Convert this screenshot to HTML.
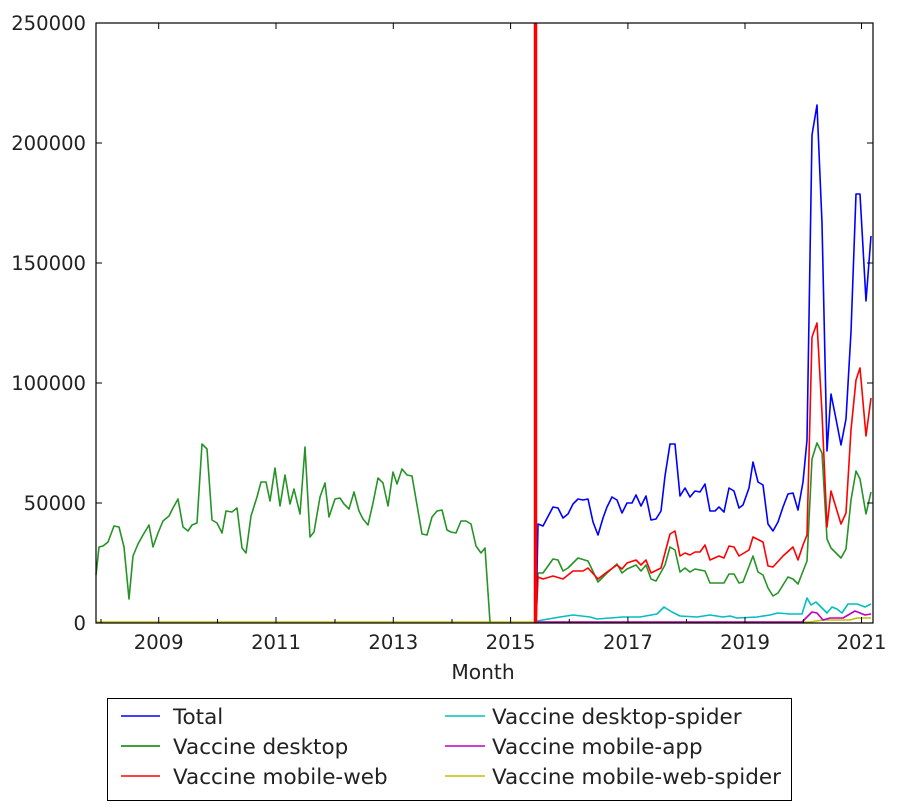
<!DOCTYPE html><html><head><style>body{margin:0;background:#fff}svg text{font-family:"DejaVu Sans","Liberation Sans",sans-serif;font-size:19.6px;fill:#222}svg text.lg{font-size:21.5px}svg text.mo{font-size:20.2px}</style></head><body>
<svg width="902" height="806" xmlns="http://www.w3.org/2000/svg">
<g fill="none" stroke-width="1.6" stroke-linejoin="round">
<polyline stroke="#bfbf00" points="96,622 490,622 536,622 805,622 810,622 823,620 850,620 857,618 871,618"/>
<polyline stroke="#008000" stroke-opacity="0.85" points="96,575 99,547 103,546 108,542 114,526 119,527 124,547 129,599 133,556 138,544 143,535 149,525 153,547 158,533 163,521 169,516 173,508 178,499 183,527 188,531 192,525 197,523 202,444 207,449 212,520 217,523 222,533 226,511 232,512 237,508 242,548 246,553 251,516 257,497 261,482 266,482 270,501 275,468 280,506 285,475 290,504 294,489 300,514 305,447 310,537 314,532 320,497 325,483 329,517 335,499 340,498 344,504 349,509 354,492 359,511 363,519 368,525 373,503 378,478 383,483 388,506 393,472 397,484 402,469 407,475 412,476 417,505 422,534 427,535 432,517 437,511 442,510 447,530 451,532 456,533 461,521 466,521 471,524 476,546 481,553 485,548 490,622"/>
<polyline stroke="#00bfbf" points="536,622 537,621 560,617 573,615 590,617 597,619 623,617 640,617 657,614 664,607 672,612 680,616 697,617 710,615 723,617 730,616 737,618 757,617 770,615 778,613 790,614 802,614 807,598 811,605 816,602 827,613 832,607 837,609 842,613 848,604 857,604 865,607 871,604"/>
<polyline stroke="#bf00bf" points="536,622 802,622 805,619 812,612 817,613 823,620 830,618 843,618 855,611 860,613 865,615 871,614"/>
<polyline stroke="#008000" stroke-opacity="0.85" points="536,622 538,573 543,573 553,559 558,560 563,571 568,568 578,558 588,561 598,582 607,573 617,564 622,573 627,569 636,565 641,571 646,565 651,579 656,581 665,565 670,547 675,550 680,572 685,568 690,572 695,569 705,571 710,583 719,583 724,583 729,574 734,574 739,583 743,582 753,556 758,572 763,575 768,588 773,596 778,593 788,577 793,579 798,584 807,561 812,459 817,443 822,453 827,539 831,548 841,558 846,549 851,500 856,471 860,479 866,514 871,492"/>
<polyline stroke="#ff0000" points="536,622 538,577 543,579 553,576 563,579 573,571 583,571 588,568 598,579 607,572 617,565 622,569 627,563 636,560 641,565 646,560 651,573 661,568 670,534 675,531 680,556 685,553 690,555 695,552 700,552 705,545 710,560 719,556 724,558 729,546 734,547 739,556 749,550 753,537 763,542 768,566 773,567 783,556 793,547 798,560 803,545 807,535 812,337 817,323 822,413 827,527 831,491 841,524 846,513 851,430 856,380 860,368 866,436 871,398"/>
<polyline stroke="#0000ff" points="536,622 538,524 543,526 553,507 558,508 563,518 568,514 573,504 578,499 583,500 588,499 593,522 598,535 603,518 607,507 612,497 617,500 622,513 627,503 632,503 636,495 641,506 646,496 651,520 656,519 661,511 665,476 670,444 675,444 680,496 685,488 690,497 695,491 700,492 705,484 710,511 715,511 719,507 724,512 729,488 734,491 739,508 743,505 749,488 753,462 758,482 763,485 768,524 773,531 778,522 783,507 788,494 793,493 798,510 803,482 807,440 812,135 817,105 822,223 827,451 831,394 836,419 841,445 846,419 851,332 856,194 860,194 866,301 871,236"/>
</g>
<line x1="535.5" y1="23" x2="535.5" y2="623" stroke="#ff0000" stroke-width="3.5"/>
<rect x="96" y="23" width="777" height="600" fill="none" stroke="#000" stroke-width="1.2"/>
<g stroke="#000" stroke-width="1">
<line x1="96" y1="143" x2="102" y2="143"/><line x1="96" y1="263" x2="102" y2="263"/><line x1="96" y1="383" x2="102" y2="383"/><line x1="96" y1="503" x2="102" y2="503"/>
<line x1="873" y1="143" x2="867" y2="143"/><line x1="873" y1="263" x2="867" y2="263"/><line x1="873" y1="383" x2="867" y2="383"/><line x1="873" y1="503" x2="867" y2="503"/>
<line x1="158.7" y1="623" x2="158.7" y2="617"/><line x1="276" y1="623" x2="276" y2="617"/><line x1="393.3" y1="623" x2="393.3" y2="617"/><line x1="510.6" y1="623" x2="510.6" y2="617"/><line x1="627.9" y1="623" x2="627.9" y2="617"/><line x1="745" y1="623" x2="745" y2="617"/><line x1="861.5" y1="623" x2="861.5" y2="617"/>
<line x1="101" y1="623" x2="101" y2="619"/><line x1="217.5" y1="623" x2="217.5" y2="619"/><line x1="335" y1="623" x2="335" y2="619"/><line x1="452" y1="623" x2="452" y2="619"/><line x1="569.3" y1="623" x2="569.3" y2="619"/><line x1="686.5" y1="623" x2="686.5" y2="619"/><line x1="803.5" y1="623" x2="803.5" y2="619"/>
<line x1="158.7" y1="23" x2="158.7" y2="29"/><line x1="276" y1="23" x2="276" y2="29"/><line x1="393.3" y1="23" x2="393.3" y2="29"/><line x1="510.6" y1="23" x2="510.6" y2="29"/><line x1="627.9" y1="23" x2="627.9" y2="29"/><line x1="745" y1="23" x2="745" y2="29"/><line x1="861.5" y1="23" x2="861.5" y2="29"/>
</g>
<g text-anchor="end"><text x="86" y="30">250000</text><text x="86" y="150">200000</text><text x="86" y="270">150000</text><text x="86" y="390">100000</text><text x="86" y="510">50000</text><text x="86" y="630">0</text></g>
<g text-anchor="middle"><text x="158.7" y="649">2009</text><text x="276" y="649">2011</text><text x="393.3" y="649">2013</text><text x="510.6" y="649">2015</text><text x="627.9" y="649">2017</text><text x="745" y="649">2019</text><text x="861.5" y="649">2021</text><text class="mo" x="483" y="679">Month</text></g>
<rect x="107.5" y="698.5" width="684" height="102" fill="#fff" stroke="#000"/>
<g stroke-width="1.6">
<line x1="121" y1="716" x2="160" y2="716" stroke="#0000ff"/><line x1="121" y1="746" x2="160" y2="746" stroke="#008000"/><line x1="121" y1="776" x2="160" y2="776" stroke="#ff0000"/>
<line x1="445" y1="716" x2="485" y2="716" stroke="#00bfbf"/><line x1="445" y1="746" x2="485" y2="746" stroke="#bf00bf"/><line x1="445" y1="776" x2="485" y2="776" stroke="#bfbf00"/>
</g>
<text class="lg" x="173" y="724">Total</text><text class="lg" x="173" y="754">Vaccine desktop</text><text class="lg" x="173" y="784">Vaccine mobile-web</text>
<text class="lg" x="492" y="724">Vaccine desktop-spider</text><text class="lg" x="492" y="754">Vaccine mobile-app</text><text class="lg" x="492" y="784">Vaccine mobile-web-spider</text>
</svg></body></html>
